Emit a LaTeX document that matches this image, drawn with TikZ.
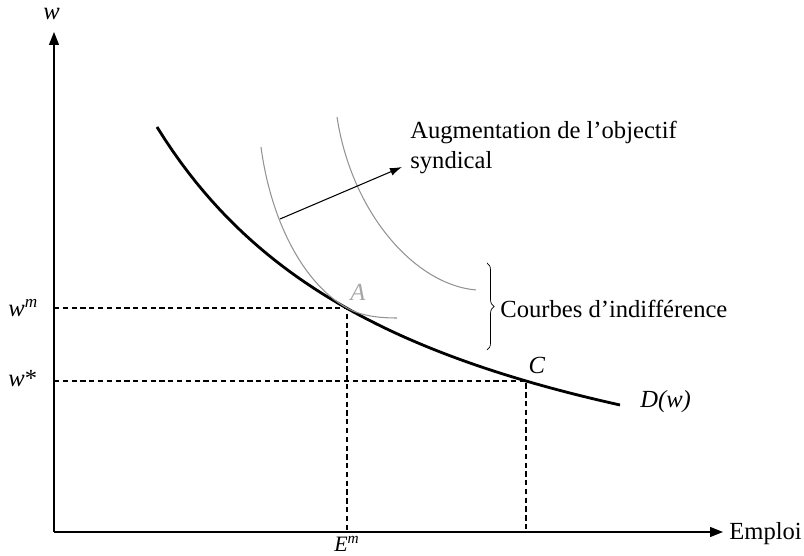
\documentclass[tikz,border=0pt]{standalone}
\usepackage{fontspec}
\setmainfont{Liberation Serif}
\usetikzlibrary{arrows.meta,decorations.pathreplacing}

\begin{document}
\begin{tikzpicture}[font=\fontsize{14}{17.5}\selectfont,
  axis/.style={line width=0.8pt,-{Triangle[length=2.6mm,width=2mm]}},
  demand/.style={line width=1.6pt},
  indiff/.style={gray!85,line width=0.6pt},
  guide/.style={line width=0.7pt,dash pattern=on 3pt off 2pt},
  lab/.style={inner sep=0pt}]
\useasboundingbox (-1.08,-0.48) rectangle (15.0,10.64);
% points
\coordinate (O) at (0,0);
\coordinate (ytop) at (0,10);
\coordinate (xend) at (13.38,0);
\coordinate (A) at (5.86,4.48);
\coordinate (C) at (9.44,3.02);
\coordinate (shiftstart) at (4.52,6.26);
\coordinate (shiftend) at (6.96,7.30);
\coordinate (btop) at (8.66,5.38);
\coordinate (bbot) at (8.66,3.64);
% axes
\draw[axis] (O) -- (ytop);
\draw[axis] (O) -- (xend);
\node[lab] (wlab) at (-0.05,10.36) {\textit{w}};
\node[lab,anchor=base west] (emploi) at (13.5,-0.16) {Emploi};
% guides
\draw[guide] (A -| O) -- (A) -- (A |- O);
\draw[guide] (C -| O) -- (C) -- (C |- O);
\node[lab,anchor=base west] (wm) at (-0.92,4.30) {\textit{w}\textsuperscript{\textit{m}}};
\node[lab,anchor=base west] (wstar) at (-0.92,2.90) {\textit{w}*};
\node[lab,anchor=base,font=\fontsize{12.5}{15}\selectfont] (Em) at (5.86,-0.39) {\textit{E}\textsuperscript{\textit{m}}};
% demand curve
\draw[demand] plot[domain=2.06:11.32,samples=60] (\x,{-0.738+48.255/(\x+3.4)});
\node[lab,anchor=base west] (Dw) at (11.72,2.48) {\textit{D(w)}};
% indifference curves
\draw[indiff] (4.14,7.70) .. controls (4.34,6.2) and (5.0,4.96) .. (A)
  .. controls (6.15,4.32) and (6.5,4.28) .. (6.86,4.28);
\draw[indiff] (5.66,8.30) .. controls (5.95,6.4) and (7.2,4.95) .. (8.44,4.84);
\node[lab,text=gray!70] (Alab) at (6.08,4.80) {\textit{A}};
\node[lab] (Clab) at (9.66,3.34) {\textit{C}};
% shift of the union objective
\draw[line width=0.6pt,-{Latex[length=2.4mm,width=1.6mm]}] (shiftstart) -- (shiftend);
\node[lab,anchor=base west,align=left] (aug) at (7.12,7.26) {Augmentation de l’objectif\\syndical};
\draw[decorate,decoration={brace,amplitude=4pt}] (btop) -- (bbot);
\node[lab,anchor=base west] (courbes) at (8.92,4.28) {Courbes d’indifférence};
\end{tikzpicture}
\end{document}
